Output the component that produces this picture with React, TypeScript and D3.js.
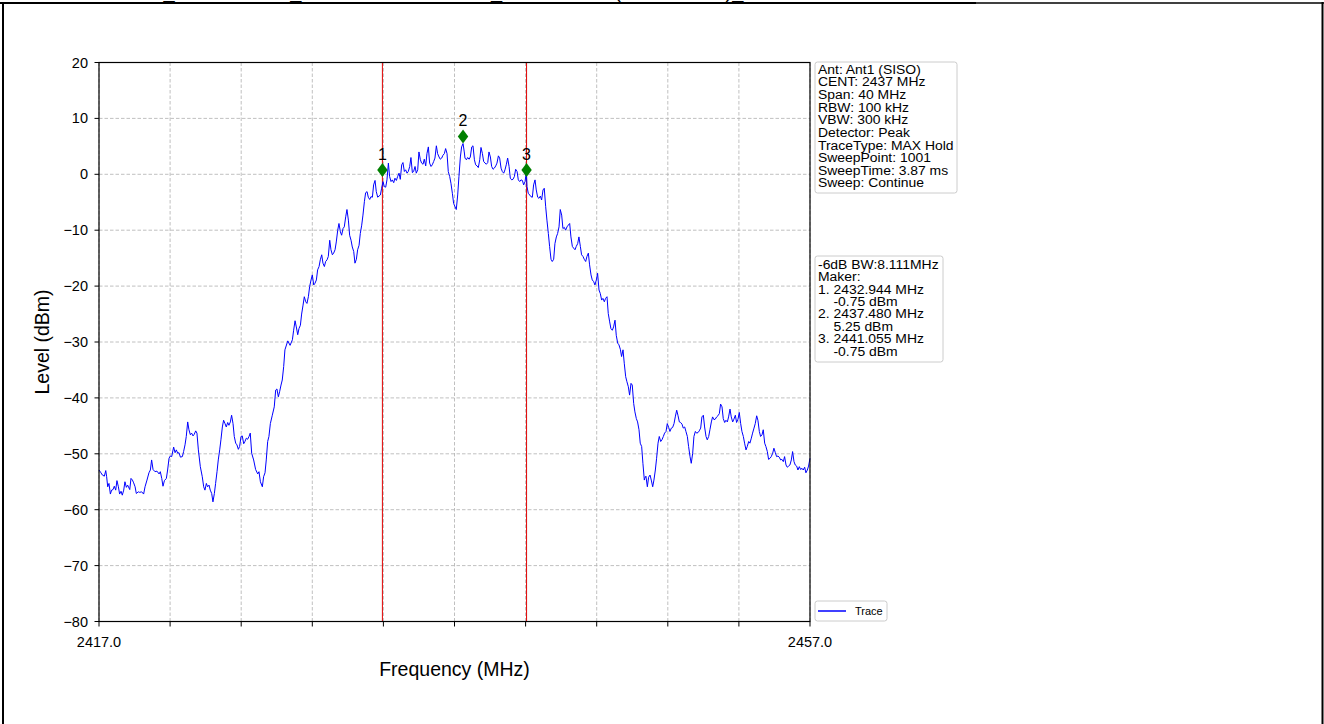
import React from 'react';
import * as d3 from 'd3';

// ---------- DATA ----------
const traceFreq: number[] = [
  2417.00,2417.11,2417.19,2417.30,2417.38,2417.43,2417.49,2417.56,2417.64,2417.71,2417.79,2417.86,2417.94,2418.01,2418.09,2418.16,2418.24,2418.31,2418.39,2418.46,
  2418.54,2418.61,2418.73,2418.80,2418.88,2418.95,2419.03,2419.10,2419.21,2419.29,2419.40,2419.51,2419.59,2419.70,2419.81,2419.89,2419.96,2420.04,2420.15,2420.26,
  2420.38,2420.45,2420.53,2420.60,2420.68,2420.79,2420.86,2420.94,2421.01,2421.09,2421.20,2421.28,2421.35,2421.43,2421.50,2421.58,2421.69,2421.76,2421.84,2421.91,
  2421.99,2422.06,2422.14,2422.21,2422.29,2422.36,2422.44,2422.51,2422.59,2422.70,2422.81,2422.89,2422.96,2423.04,2423.11,2423.19,2423.26,2423.34,2423.41,2423.49,
  2423.56,2423.64,2423.71,2423.79,2423.86,2423.94,2424.01,2424.09,2424.16,2424.24,2424.31,2424.39,2424.46,2424.54,2424.61,2424.69,2424.76,2424.84,2424.91,2424.99,
  2425.06,2425.14,2425.21,2425.29,2425.36,2425.44,2425.51,2425.59,2425.70,2425.81,2425.93,2426.00,2426.08,2426.19,2426.26,2426.34,2426.41,2426.49,2426.56,2426.64,
  2426.75,2426.86,2426.94,2427.01,2427.09,2427.16,2427.24,2427.31,2427.39,2427.46,2427.62,2427.75,
  2427.88,2427.95,2428.03,2428.10,2428.18,2428.25,2428.33,2428.40,2428.48,2428.55,2428.63,2428.70,2428.78,2428.85,2428.93,2429.00,2429.08,2429.15,2429.23,2429.30,
  2429.38,2429.45,2429.53,2429.60,2429.68,2429.75,2429.83,2429.90,2429.98,2430.05,2430.13,2430.20,2430.28,2430.35,2430.43,2430.50,2430.58,2430.65,2430.73,2430.80,
  2430.88,2430.95,2431.03,2431.10,2431.18,2431.25,2431.33,2431.40,2431.48,2431.55,2431.63,2431.70,2431.78,2431.85,2431.93,2432.00,2432.08,2432.15,2432.23,2432.30,
  2432.38,2432.45,2432.53,2432.60,2432.68,2432.75,2432.83,2432.90,2432.98,2433.05,2433.13,2433.20,2433.28,2433.35,2433.43,2433.50,2433.58,2433.65,2433.73,2433.80,
  2433.88,2433.95,2434.03,2434.10,2434.18,2434.25,2434.33,2434.40,2434.48,2434.55,2434.63,2434.70,2434.78,2434.85,2434.93,2435.00,2435.08,2435.15,2435.23,2435.30,
  2435.38,2435.45,2435.53,2435.60,2435.68,2435.75,2435.83,2435.90,2435.98,2436.05,2436.13,2436.20,2436.28,2436.35,2436.43,2436.50,2436.58,2436.65,2436.73,2436.80,
  2436.88,2436.95,2437.03,2437.10,2437.18,2437.25,2437.33,2437.40,2437.48,
  2437.55,2437.59,2437.67,2437.74,2437.82,2437.89,2437.97,2438.04,2438.12,2438.19,2438.27,2438.34,2438.42,2438.49,2438.57,2438.64,2438.72,2438.79,2438.87,2438.94,
  2439.02,2439.09,2439.17,2439.24,2439.32,2439.39,2439.47,2439.54,2439.62,2439.69,2439.77,2439.84,2439.92,2439.99,2440.07,2440.14,2440.22,2440.29,2440.37,2440.44,
  2440.52,2440.59,2440.67,2440.74,2440.82,2440.89,2440.97,2441.04,2441.08,2441.15,2441.23,2441.30,2441.38,2441.45,2441.53,2441.60,2441.68,2441.75,2441.83,2441.90,
  2441.98,2442.05,2442.13,2442.20,2442.28,2442.35,2442.43,2442.50,2442.58,2442.65,2442.73,2442.80,2442.88,2442.95,2443.03,2443.10,2443.18,2443.25,2443.33,2443.40,
  2443.48,2443.55,2443.63,2443.70,2443.78,2443.85,2443.93,2444.00,2444.08,2444.15,2444.23,2444.30,2444.38,2444.45,2444.53,2444.60,2444.68,2444.75,2444.83,2444.90,
  2444.98,2445.05,2445.13,2445.20,2445.28,2445.35,2445.43,2445.50,2445.58,2445.65,2445.73,2445.80,2445.88,2445.95,2446.03,2446.10,2446.18,2446.25,2446.33,2446.40,
  2446.48,2446.55,2446.63,2446.70,2446.78,2446.85,2446.93,2447.00,2447.08,2447.15,2447.23,2447.30,2447.38,2447.45,2447.53,2447.60,2447.68,
  2447.70,2447.77,2447.85,2447.92,2448.00,2448.07,2448.15,2448.22,2448.30,2448.37,2448.45,2448.52,2448.60,2448.67,2448.75,2448.82,2448.90,2448.97,2449.05,2449.12,
  2449.20,2449.27,2449.35,2449.42,2449.50,2449.57,2449.65,2449.72,2449.80,2449.87,2449.95,2450.02,2450.10,2450.17,2450.25,2450.32,2450.40,2450.47,2450.55,2450.62,
  2450.70,2450.77,2450.85,2450.92,2451.00,2451.07,2451.15,2451.22,2451.30,2451.37,2451.45,2451.52,2451.60,2451.67,2451.75,2451.82,2451.90,2451.97,2452.05,2452.12,
  2452.20,2452.27,2452.35,2452.42,2452.50,2452.57,2452.65,2452.72,2452.80,2452.87,2452.95,2453.02,2453.10,2453.17,2453.25,2453.32,2453.40,2453.47,2453.55,2453.62,
  2453.70,2453.77,2453.85,2453.92,2454.00,2454.07,2454.15,2454.22,2454.30,2454.37,2454.45,2454.52,2454.60,2454.67,2454.75,2454.82,2454.90,2454.97,2455.05,2455.12,
  2455.20,2455.27,2455.35,2455.42,2455.50,2455.57,2455.65,2455.72,2455.80,2455.87,2455.95,2456.02,2456.10,2456.17,2456.25,2456.32,2456.40,2456.47,2456.55,2456.62,
  2456.70,2456.77,2456.85,2456.92,2457.00
];

const traceLevel: number[] = [
  -52.9,-53.4,-53.8,-54.0,-53.0,-54.1,-55.9,-55.3,-57.2,-56.5,-56.4,-55.8,-56.5,-54.8,-55.9,-57.2,-56.7,-57.4,-56.5,-55.0,
  -56.0,-55.6,-56.4,-54.4,-54.7,-55.2,-55.9,-57.1,-56.8,-56.9,-56.8,-57.2,-55.9,-54.7,-53.4,-52.9,-51.1,-52.8,-53.2,-53.1,
  -53.6,-53.2,-54.4,-55.8,-54.8,-54.4,-52.9,-50.8,-50.4,-50.5,-48.8,-49.8,-49.3,-49.9,-49.8,-50.6,-50.5,-49.6,-48.4,-46.9,
  -44.3,-45.7,-46.6,-46.3,-46.8,-46.5,-45.9,-46.3,-49.3,-52.3,-54.1,-55.9,-56.5,-55.3,-55.9,-55.6,-56.5,-57.1,-58.6,-57.1,
  -55.3,-53.2,-51.1,-49.3,-47.5,-45.2,-44.0,-44.6,-45.2,-44.4,-44.9,-44.3,-43.1,-44.6,-46.9,-48.1,-48.4,-49.2,-48.7,-46.9,
  -46.8,-48.2,-47.8,-47.2,-47.4,-46.9,-46.3,-49.9,-51.1,-52.8,-53.6,-53.2,-55.0,-55.9,-54.1,-53.4,-51.1,-47.8,-46.9,-44.6,
  -43.1,-41.6,-38.6,-38.4,-39.8,-38.9,-37.7,-36.8,-34.4,-31.4,-29.8,-30.6,
  -29.6,-27.9,-26.2,-27.3,-28.7,-27.6,-27.0,-25.0,-23.4,-21.9,-22.8,-23.1,-21.9,-20.1,-18.9,-18.0,-19.8,-19.5,-18.9,-17.1,
  -16.5,-15.3,-14.4,-15.9,-16.5,-15.6,-15.3,-14.7,-11.8,-13.5,-14.4,-14.1,-13.5,-12.1,-10.0,-8.8,-10.3,-10.9,-9.7,-9.4,
  -7.6,-6.3,-8.2,-10.9,-11.8,-13.0,-13.8,-15.9,-15.2,-13.5,-12.7,-10.6,-9.1,-7.3,-4.9,-3.3,-3.1,-4.1,-4.5,-4.0,
  -4.1,-1.9,-1.1,-3.1,-4.1,-3.9,-3.7,-2.5,-1.3,-2.2,-2.3,-1.0,2.0,-0.4,-1.3,-1.0,-1.5,-0.7,-1.1,-0.4,
  0.2,-0.9,1.7,2.1,0.5,0.8,0.2,0.5,1.4,3.0,0.3,0.5,1.4,0.2,0.8,4.0,2.6,2.0,1.8,2.7,
  1.5,3.7,4.9,2.0,1.4,1.7,2.3,2.9,5.1,3.7,3.1,2.7,2.9,3.4,3.7,4.6,3.7,0.5,-0.4,-1.6,
  -3.4,-5.2,-5.8,-6.3,-3.7,-0.4,3.1,4.9,5.5,
  4.0,2.9,2.6,3.0,2.7,3.1,4.9,5.1,2.6,1.7,1.5,1.2,2.6,4.8,3.7,2.3,2.0,1.8,2.1,4.0,
  3.1,1.4,0.9,1.1,1.5,2.0,3.3,2.9,1.1,0.5,0.2,0.8,1.8,2.9,1.4,-0.7,-1.0,-0.9,-0.4,0.9,
  0.5,-1.0,-1.3,-1.0,-1.1,-1.9,-1.3,0.5,-2.2,-3.4,-3.7,-4.0,-4.1,-1.9,-1.0,-2.8,-4.1,-4.3,-3.9,-4.6,
  -2.8,-2.5,-5.8,-8.2,-10.6,-12.9,-15.2,-15.6,-15.2,-12.4,-11.2,-10.6,-9.4,-6.3,-7.3,-9.7,-9.5,-10.0,-9.4,-9.1,
  -8.8,-11.2,-12.9,-13.2,-13.5,-12.9,-12.4,-11.2,-12.9,-14.4,-14.7,-15.2,-15.6,-14.7,-14.1,-16.2,-18.0,-18.9,-19.2,-19.8,
  -18.9,-17.7,-20.7,-21.3,-22.5,-22.2,-22.8,-22.2,-21.9,-24.9,-26.4,-27.6,-27.9,-27.3,-26.1,-28.8,-30.2,-30.5,-31.3,-32.6,
  -31.4,-33.8,-36.2,-37.1,-38.0,-39.5,-37.4,-37.7,-41.0,-42.5,-43.7,-44.3,-45.7,-48.1,-48.7,-51.7,-54.7,
  -54.4,-54.0,-55.9,-54.2,-53.8,-54.7,-55.9,-54.7,-52.9,-50.8,-48.1,-46.9,-47.8,-47.5,-46.9,-46.3,-46.0,-44.6,-45.3,-46.0,
  -45.4,-45.3,-44.6,-43.4,-42.2,-43.1,-44.3,-44.4,-44.7,-45.4,-45.2,-46.0,-46.9,-48.7,-50.5,-51.7,-49.9,-46.9,-46.0,-46.3,
  -46.2,-45.9,-45.4,-43.4,-43.1,-45.2,-46.9,-47.5,-46.9,-45.7,-44.3,-43.4,-43.9,-43.8,-43.4,-43.2,-42.8,-41.1,-41.6,-43.7,
  -44.4,-44.0,-44.3,-43.4,-42.0,-43.4,-44.3,-43.8,-43.1,-44.4,-43.8,-42.6,-44.6,-46.0,-46.9,-48.1,-49.3,-48.7,-47.8,-48.1,
  -47.2,-46.3,-45.4,-44.6,-43.2,-44.0,-46.0,-46.9,-46.6,-45.7,-48.1,-48.7,-49.6,-51.0,-50.8,-50.5,-49.9,-49.0,-49.8,-50.5,
  -50.4,-50.6,-51.1,-51.0,-51.4,-50.5,-52.0,-52.4,-52.2,-52.0,-51.1,-49.6,-51.4,-52.0,-52.2,-52.9,-52.3,-52.8,-52.6,-52.9,
  -52.4,-53.4,-52.9,-52.2,-50.8
];

const markerFreq = [2432.944, 2437.48, 2441.055];
const markerLevel = [-0.75, 5.25, -0.75];
const markerLabels = ['1', '2', '3'];
const bwLineFreq = [2432.944, 2441.055];

const yTicks = [20, 10, 0, -10, -20, -30, -40, -50, -60, -70, -80];
const xTicks = [2417, 2421, 2425, 2429, 2433, 2437, 2441, 2445, 2449, 2453, 2457];
const xTickLabels = ['2417.0', '', '', '', '', '', '', '', '', '', '2457.0'];

const infoLines = [
  'Ant: Ant1 (SISO)',
  'CENT: 2437 MHz',
  'Span: 40 MHz',
  'RBW: 100 kHz',
  'VBW: 300 kHz',
  'Detector: Peak',
  'TraceType: MAX Hold',
  'SweepPoint: 1001',
  'SweepTime: 3.87 ms',
  'Sweep: Continue',
];
const markerInfoLines = [
  '-6dB BW:8.111MHz',
  'Maker:',
  '1. 2432.944 MHz',
  '    -0.75 dBm',
  '2. 2437.480 MHz',
  '    5.25 dBm',
  '3. 2441.055 MHz',
  '    -0.75 dBm',
];

// title: only the lowest pixels of it are visible at the very top of the page
const titleText = 'RADIO1_WLAN-CH06_HE20-MCS11-2437M_SPECTRUM(ANT1 SISO)_';

const MARKER_OFFSET = 1.5;
const FONT = '"Liberation Sans", Arial, Helvetica, sans-serif';

export default function App() {
  const W = 1324, H = 724;
  const left = 99, right = 810, top = 62.5, bottom = 621.5;
  const x = d3.scaleLinear().domain([2417, 2457]).range([left, right]);
  const y = d3.scaleLinear().domain([-80, 20]).range([bottom, top]);
  const pts = traceFreq.map((f, i) => [f, traceLevel[i]] as [number, number]);
  const line = d3.line<[number, number]>().x(d => x(d[0])).y(d => y(d[1]));
  const legendStretch = 1.16;

  return (
    <svg width={W} height={H} style={{ position: 'absolute', left: 0, top: 0, background: '#fff' }} fontFamily={FONT}>
      <rect x={0} y={0} width={W} height={H} fill="#fff" />
      {/* cut-off title */}
      <text x={89} y={-2} fontSize={20} fill="#000" style={{ whiteSpace: 'pre' }}>{titleText}</text>
      {/* page frame */}
      <line x1={0} x2={976} y1={3} y2={3} stroke="#000" strokeWidth={2} />
      <line x1={976} x2={1324} y1={3} y2={3} stroke="#000" strokeWidth={1.5} />
      <line x1={3} x2={3} y1={2} y2={H} stroke="#000" strokeWidth={2} />
      <line x1={1322.5} x2={1322.5} y1={2} y2={H} stroke="#000" strokeWidth={2} />

      {/* grid */}
      {xTicks.map((t, i) => (
        <line key={'gx' + i} x1={x(t)} x2={x(t)} y1={top} y2={bottom} stroke="#b0b0b0" strokeWidth={0.8} strokeDasharray="3.5,2" />
      ))}
      {yTicks.map((t, i) => (
        <line key={'gy' + i} x1={left} x2={right} y1={y(t)} y2={y(t)} stroke="#b0b0b0" strokeWidth={0.8} strokeDasharray="3.5,2" />
      ))}

      {/* bandwidth lines */}
      {bwLineFreq.map((f, i) => (
        <line key={'bw' + i} x1={x(f)} x2={x(f)} y1={top} y2={bottom} stroke="#e00000" strokeWidth={1} />
      ))}

      {/* trace */}
      <path d={line(pts) || ''} fill="none" stroke="#0000ff" strokeWidth={1} strokeLinejoin="round" />

      {/* markers */}
      {markerFreq.map((f, i) => {
        const cx = x(f), cy = y(markerLevel[i] + MARKER_OFFSET);
        return (
          <g key={'m' + i}>
            <path d={`M${cx},${cy - 7}L${cx + 5.2},${cy}L${cx},${cy + 7}L${cx - 5.2},${cy}Z`} fill="#008000" />
            <text x={cx} y={cy - 10.5} fontSize={16} textAnchor="middle" fill="#000">{markerLabels[i]}</text>
          </g>
        );
      })}

      {/* spines */}
      <rect x={left} y={top} width={right - left} height={bottom - top} fill="none" stroke="#000" strokeWidth={1.2} />

      {/* y ticks */}
      {yTicks.map((t, i) => (
        <g key={'yt' + i}>
          <line x1={left - 4.5} x2={left} y1={y(t)} y2={y(t)} stroke="#000" strokeWidth={1} />
          <text x={left - 11} y={y(t)} dy="0.35em" fontSize={14.5} textAnchor="end" fill="#000">
            {t < 0 ? '\u2212' + Math.abs(t) : String(t)}
          </text>
        </g>
      ))}
      {/* x ticks */}
      {xTicks.map((t, i) => (
        <g key={'xt' + i}>
          <line x1={x(t)} x2={x(t)} y1={bottom} y2={bottom + 5} stroke="#000" strokeWidth={1} />
          {xTickLabels[i] ? (
            <text x={x(t)} y={bottom + 25} fontSize={14.5} textAnchor="middle" fill="#000">{xTickLabels[i]}</text>
          ) : null}
        </g>
      ))}

      {/* axis titles */}
      <text x={(left + right) / 2} y={676} fontSize={19.5} textAnchor="middle" fill="#000">Frequency (MHz)</text>
      <text transform={`translate(49,${(top + bottom) / 2}) rotate(-90)`} fontSize={19.5} textAnchor="middle" fill="#000">Level (dBm)</text>

      {/* info box */}
      <rect x={815} y={62} width={142} height={131} rx={2.5} fill="#fff" stroke="#cccccc" strokeWidth={1} />
      {infoLines.map((s, i) => (
        <text key={'il' + i} transform={`translate(818,${73.6 + i * 12.65}) scale(${legendStretch},1)`} fontSize={12} fill="#000" style={{ whiteSpace: 'pre' }}>{s}</text>
      ))}

      {/* marker box */}
      <rect x={815} y={256} width={128} height={106} rx={2.5} fill="#fff" stroke="#cccccc" strokeWidth={1} />
      {markerInfoLines.map((s, i) => (
        <text key={'ml' + i} transform={`translate(818,${268.6 + i * 12.45}) scale(${legendStretch},1)`} fontSize={12} fill="#000" style={{ whiteSpace: 'pre' }}>{s}</text>
      ))}

      {/* trace legend */}
      <rect x={815} y={601} width={72} height={20} rx={2.5} fill="#fff" stroke="#cccccc" strokeWidth={1} />
      <line x1={818} x2={846} y1={611} y2={611} stroke="#0000ff" strokeWidth={1.5} />
      <text x={855} y={615} fontSize={11} fill="#000">Trace</text>
    </svg>
  );
}
